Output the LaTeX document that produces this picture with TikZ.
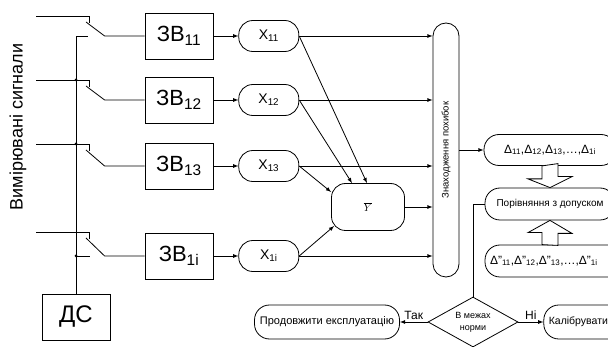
\documentclass[tikz,border=0pt]{standalone}
\usepackage{fontspec}
\setmainfont{Liberation Sans}
\usetikzlibrary{shapes.geometric,positioning}

\begin{document}
\begin{tikzpicture}[x=1pt,y=-1pt,>=latex,auto,thick,
  block node/.style={rectangle,draw,minimum width=68pt,minimum height=46pt,inner sep=0pt,font=\fontsize{22}{24}\selectfont},
  var node/.style={rectangle,rounded corners=14pt,draw,minimum width=60pt,minimum height=31pt,inner sep=0pt,font=\fontsize{14}{16}\selectfont},
  wide node/.style={rectangle,rounded corners=15pt,draw,minimum height=31pt,inner sep=0pt,font=\fontsize{11}{13}\selectfont},
  check node/.style={diamond,draw,aspect=1.8,minimum width=90pt,minimum height=50pt,inner sep=0pt,align=center,font=\fontsize{9}{12}\selectfont},
  hollow arrow/.style={draw,thick,fill=white}]

  \useasboundingbox (0,0) rectangle (608,347);

  \node[rotate=90,font=\fontsize{18}{20}\selectfont] (title) at (18,127) {Вимірювані сигнали};

  \node[block node] (zv1) at (179,36) {ЗВ\textsubscript{11}};
  \node[block node] (zv2) at (179,100) {ЗВ\textsubscript{12}};
  \node[block node] (zv3) at (179,166) {ЗВ\textsubscript{13}};
  \node[block node] (zv4) at (179,256) {ЗВ\textsubscript{1i}};
  \node[block node,font=\fontsize{24}{26}\selectfont] (ds) at (76,317) {ДС};

  \node[var node] (x1) [right=25pt of zv1] {X\textsubscript{11}};
  \node[var node] (x2) [right=25pt of zv2] {X\textsubscript{12}};
  \node[var node] (x3) [right=25pt of zv3] {X\textsubscript{13}};
  \node[var node] (x4) [right=25pt of zv4] {X\textsubscript{1i}};

  \node[var node,minimum width=73pt,minimum height=47pt,font=\fontsize{11}{13}\selectfont] (ybar) at (368,207) {$\overline{Y}$};
  \node[rectangle,rounded corners=13pt,draw,minimum width=26pt,minimum height=254pt,inner sep=0pt,font=\fontsize{9.5}{11}\selectfont] (err) at (446,150) {\rotatebox{90}{Знаходження похибок}};

  \node[wide node,minimum width=132pt,font=\fontsize{12}{14}\selectfont] (delta) at (550,150) {Δ\textsubscript{11},Δ\textsubscript{12},Δ\textsubscript{13},…,Δ\textsubscript{1i}};
  \node[wide node,minimum width=130pt,minimum height=32pt,font=\fontsize{10}{12}\selectfont] (comp) at (550,204) {Порівняння з допуском};
  \node[wide node,minimum width=142pt,minimum height=32pt,text width=132pt,align=left,font=\fontsize{12}{14}\selectfont] (deltat) at (556,261) {Δ"\textsubscript{11},Δ"\textsubscript{12},Δ"\textsubscript{13},…,Δ"\textsubscript{1i}};

  \node[check node] (dia) at (473,322) {В межах\\норми};
  \node[wide node,minimum width=145pt,minimum height=34pt] (cont) at (327,322) {Продовжити експлуатацію};
  \node[wide node,minimum width=90pt,minimum height=34pt,text width=80pt,align=left,font=\fontsize{10.5}{12}\selectfont] (calib) [right=25pt of dia] {Калібрувати};

  % switches
  \foreach \yin/\n in {16/1,80/2,144/3,232/4} {
    \coordinate (in\n) at (36,\yin);
    \draw (in\n) -- ++(53,0) -- ++(0,7);
    \draw (86,\yin+6) -- ([xshift=-40pt]zv\n.west) -- (zv\n.west);
  }
  \draw (ds.north) -- (ds.north |- zv1.west) -- ++(12,0);
  \draw (ds.north |- zv4.west) -- ++(14,0);
  \fill (ds.north |- in2) circle (1.5pt);
  \fill (ds.north |- in3) circle (1.5pt);
  \fill (ds.north |- zv4.west) circle (1.5pt);

  \path[->]
    (zv1) edge (x1)
    (zv2) edge (x2)
    (zv3) edge (x3)
    (zv4) edge (x4)
    (x1) edge (x1 -| err.west)
    (x2) edge (x2 -| err.west)
    (x3) edge (x3 -| err.west)
    (x4) edge (x4 -| err.west)
    (ybar) edge (ybar -| err.west)
    (x1.east) edge ([xshift=-1pt]ybar.north)
    (x2.east) edge ([xshift=-16pt]ybar.north)
    (x3.east) edge ([yshift=15pt]ybar.west)
    (x4.east) edge ([xshift=3pt,yshift=-19pt]ybar.west)
    (err) edge (delta);

  % block arrows
  \draw[hollow arrow] (delta.south) ++(-8,0) -- ++(0,13) -- ++(-14,0) -- (comp.north)
    -- ++(22,-11) -- ++(-14,0) -- ++(0,-13) -- cycle;
  \draw[hollow arrow] (deltat.north) ++(-14,0) -- ++(0,-12) -- ++(-14,0) -- (comp.south)
    -- ++(22,13) -- ++(-14,0) -- ++(0,12) -- cycle;

  \draw (comp.west) -| (dia.north);
  \path[->,every node/.style={font=\fontsize{12}{14}\selectfont,inner sep=2pt}]
    (dia) edge node [above] {Так} (cont)
    (dia) edge node [above] {Ні} (calib);

\end{tikzpicture}
\end{document}
